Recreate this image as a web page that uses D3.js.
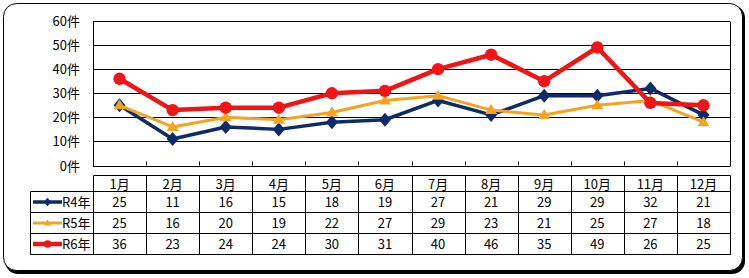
<!DOCTYPE html>
<html>
<head>
<meta charset="utf-8">
<style>
    body { margin: 0; background: #fff; }
    svg text { font-family: "Noto Sans CJK JP", sans-serif; font-size: 13px; fill: #000; }
</style>
</head>
<body>
<svg id="chart" width="749" height="278"></svg>
<script src="https://cdnjs.cloudflare.com/ajax/libs/d3/7.8.5/d3.min.js"></script>
<script>
    // data
    const months = ["1月", "2月", "3月", "4月", "5月", "6月", "7月", "8月", "9月", "10月", "11月", "12月"];
    const r4 = [25, 11, 16, 15, 18, 19, 27, 21, 29, 29, 32, 21];
    const r5 = [25, 16, 20, 19, 22, 27, 29, 23, 21, 25, 27, 18];
    const r6 = [36, 23, 24, 24, 30, 31, 40, 46, 35, 49, 26, 25];
    const seriesNames = ["R4年", "R5年", "R6年"];
    const yTicks = [0, 10, 20, 30, 40, 50, 60];

    const series = [
        { name: seriesNames[0], values: r4, color: "#0d2b66", width: 3.5, marker: "diamond" },
        { name: seriesNames[1], values: r5, color: "#f5a21f", width: 3, marker: "triangle" },
        { name: seriesNames[2], values: r6, color: "#f01414", width: 4.5, marker: "circle" }
    ];

    const svg = d3.select("#chart");

    // rounded frame with shadow
    svg.append("rect").attr("x", 5).attr("y", 5).attr("width", 740).attr("height", 269)
        .attr("rx", 13).attr("fill", "#000");
    svg.append("rect").attr("x", 3.5).attr("y", 3.5).attr("width", 739).attr("height", 267)
        .attr("rx", 13).attr("fill", "#fff").attr("stroke", "#000").attr("stroke-width", 1);

    const plotL = 93, plotR = 730, plotT = 21, plotB = 165.5;

    const x = d3.scaleBand().domain(months).range([plotL, plotR]);
    const y = d3.scaleLinear().domain([0, 60]).range([plotB, plotT]);

    // gridlines
    svg.append("g").selectAll("line").data(yTicks).join("line")
        .attr("x1", plotL).attr("x2", plotR)
        .attr("y1", d => Math.round(y(d)) + 0.5).attr("y2", d => Math.round(y(d)) + 0.5)
        .attr("stroke", "#000").attr("stroke-width", 1);

    // plot sides
    svg.append("line").attr("x1", plotL + 0.5).attr("x2", plotL + 0.5)
        .attr("y1", Math.round(plotT) + 0.5).attr("y2", Math.round(plotB) + 0.5).attr("stroke", "#000");
    svg.append("line").attr("x1", plotR + 0.5).attr("x2", plotR + 0.5)
        .attr("y1", Math.round(plotT) + 0.5).attr("y2", Math.round(plotB) + 0.5).attr("stroke", "#000");

    // x tick marks
    svg.append("g").selectAll("line").data(months.slice(1)).join("line")
        .attr("x1", d => Math.round(x(d)) + 0.5).attr("x2", d => Math.round(x(d)) + 0.5)
        .attr("y1", plotB - 4).attr("y2", plotB)
        .attr("stroke", "#000");

    // y labels
    svg.append("g").selectAll("text").data(yTicks).join("text")
        .attr("x", 80).attr("y", d => y(d) + 5)
        .attr("text-anchor", "end")
        .text(d => d + "件");

    function markerPath(type) {
        if (type === "diamond") return "M0,-7L6,0L0,7L-6,0Z";
        if (type === "triangle") return "M0,-6L6,4L-6,4Z";
        return d3.symbol(d3.symbolCircle, 120)();
    }

    const cx = d => x(d) + x.bandwidth() / 2;
    const line = d3.line().x((v, i) => cx(months[i])).y(v => y(v));

    series.forEach(s => {
        svg.append("path").datum(s.values)
            .attr("d", line).attr("fill", "none")
            .attr("stroke", s.color).attr("stroke-width", s.width)
            .attr("stroke-linejoin", "round");
        svg.append("g").selectAll("path").data(s.values).join("path")
            .attr("transform", (v, i) => `translate(${cx(months[i])},${y(v)})`)
            .attr("d", markerPath(s.marker))
            .attr("fill", s.color);
    });

    // data table
    const tTop = 175.5, hdrH = 16, rowH = 21, legLeft = 30.5;
    const rowsTop = tTop + hdrH;
    const tBottom = rowsTop + rowH * 3;
    const tbl = svg.append("g").attr("stroke", "#000").attr("stroke-width", 1);

    tbl.append("line").attr("x1", plotL + 0.5).attr("x2", plotR + 0.5).attr("y1", tTop).attr("y2", tTop);
    [0, 1, 2, 3].forEach(i => {
        tbl.append("line").attr("x1", legLeft).attr("x2", plotR + 0.5)
            .attr("y1", rowsTop + i * rowH).attr("y2", rowsTop + i * rowH);
    });
    tbl.append("line").attr("x1", legLeft).attr("x2", legLeft).attr("y1", rowsTop).attr("y2", tBottom);
    const colEdges = months.map(m => Math.round(x(m)) + 0.5).concat([plotR + 0.5]);
    tbl.selectAll("line.col").data(colEdges).join("line").attr("class", "col")
        .attr("x1", d => d).attr("x2", d => d).attr("y1", tTop).attr("y2", tBottom);

    svg.append("g").selectAll("text").data(months).join("text")
        .attr("x", d => cx(d)).attr("y", tTop + 13)
        .attr("text-anchor", "middle").text(d => d);

    series.forEach((s, r) => {
        const ry = rowsTop + r * rowH;
        svg.append("g").selectAll("text").data(s.values).join("text")
            .attr("x", (v, i) => cx(months[i])).attr("y", ry + 15.5)
            .attr("text-anchor", "middle").text(v => v);
        // legend key
        const my = ry + rowH / 2;
        svg.append("line").attr("x1", 33).attr("x2", 62).attr("y1", my).attr("y2", my)
            .attr("stroke", s.color).attr("stroke-width", s.width);
        svg.append("path").attr("transform", `translate(47.5,${my}) scale(0.6)`)
            .attr("d", markerPath(s.marker)).attr("fill", s.color);
        svg.append("text").attr("x", 62).attr("y", ry + 15.5).text(s.name);
    });
</script>
</body>
</html>
